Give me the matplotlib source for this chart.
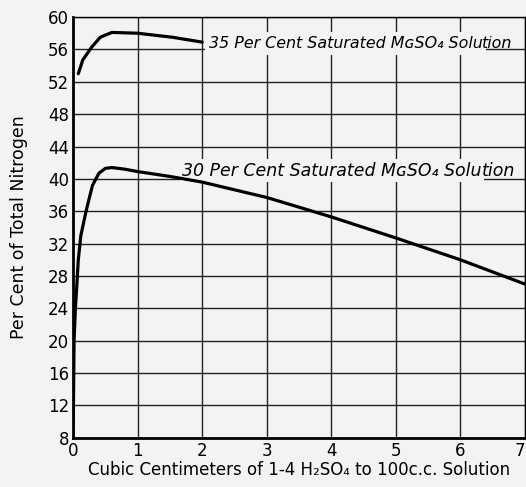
import matplotlib
matplotlib.use('Agg')
from matplotlib import pyplot as plt

# Curve readings (cc of 1-4 H2SO4, per cent of total nitrogen)
x_35 = [0.08, 0.15, 0.29, 0.42, 0.6, 1.0, 1.54, 2.0]
y_35 = [53.0, 54.7, 56.3, 57.5, 58.1, 58.0, 57.5, 56.9]

x_30 = [0.0, 0.015, 0.035, 0.055, 0.08, 0.12, 0.2, 0.3, 0.4, 0.5, 0.6, 0.8,
        1.0, 1.5, 2.0, 3.0, 4.0, 5.0, 6.0, 7.0]
y_30 = [8.0, 20.0, 24.0, 26.5, 30.0, 33.0, 36.0, 39.2, 40.7, 41.3, 41.4, 41.2,
        40.9, 40.3, 39.6, 37.7, 35.3, 32.7, 30.0, 27.0]

x_ticks = [0, 1, 2, 3, 4, 5, 6, 7]
y_ticks = [8, 12, 16, 20, 24, 28, 32, 36, 40, 44, 48, 52, 56, 60]

# labels are split so the gridline shows as an underline under "tion"
label_35 = ('35 Per Cent Saturated MɢSO₄ Solu', 'tion')
label_30 = ('30 Per Cent Saturated MɢSO₄ Solu', 'tion')

bg = '#f3f3f1'
fig = plt.figure(figsize=(5.26, 4.87), dpi=100, facecolor=bg)
ax = fig.add_axes([0.139, 0.101, 0.859, 0.864], facecolor=bg)

ax.plot(x_35, y_35, color='black', lw=2.3, solid_capstyle='round', zorder=4)
ax.plot(x_30, y_30, color='black', lw=2.3, solid_capstyle='round', zorder=4)

ax.set_xlim(0, 7)
ax.set_ylim(8, 60)
ax.set_xticks(x_ticks)
ax.set_yticks(y_ticks)
ax.grid(True, color='#222222', lw=1.0)
ax.tick_params(length=0, labelsize=12, pad=3)
# last x label sits against the right edge
ax.get_xticklabels()[-1].set_horizontalalignment('right')
for s in ['left', 'bottom']:
    ax.spines[s].set_linewidth(2.0)
for s in ['top', 'right']:
    ax.spines[s].set_linewidth(1.0)

# Curve labels, boxed so they blank out the grid behind them
t35 = ax.text(2.1, 56.2, label_35[0], fontsize=11.4, style='italic',
              va='baseline', zorder=3,
              bbox=dict(boxstyle='square,pad=0.25', fc=bg, ec='none'))
ax.annotate(label_35[1], xy=(1, 0), xycoords=t35, fontsize=11.4,
            style='italic', va='bottom', ha='left', zorder=3)
t30 = ax.text(1.69, 40.4, label_30[0], fontsize=12.5, style='italic',
              va='baseline', zorder=3,
              bbox=dict(boxstyle='square,pad=0.15', fc=bg, ec='none'))
ax.annotate(label_30[1], xy=(1, 0), xycoords=t30, fontsize=12.5,
            style='italic', va='bottom', ha='left', zorder=3)

ax.set_xlabel('Cubic Centimeters of 1-4 H₂SO₄ to 100c.c. Solution',
              fontsize=12, labelpad=1)
ax.set_ylabel('Per Cent of Total Nitrogen', fontsize=12.5, labelpad=14)

fig.savefig('out.png', dpi=100, facecolor=bg)
